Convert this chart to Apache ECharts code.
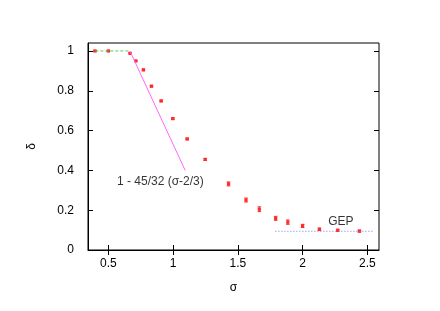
<!DOCTYPE html>
<html><head><meta charset="utf-8">
<script src="https://cdn.jsdelivr.net/npm/echarts@6/dist/echarts.min.js"></script>
<style>html,body{margin:0;padding:0;background:#fff}#c{width:440px;height:311px}</style>
</head><body><div id="c"></div>
<script>
const sigma = [0.397, 0.5, 0.668, 0.712, 0.771, 0.833, 0.908, 0.998, 1.109, 1.248, 1.428, 1.563, 1.666, 1.792, 1.886, 2.0, 2.13, 2.271, 2.439];
const delta = [1.0, 1.0, 0.988, 0.95, 0.905, 0.823, 0.749, 0.66, 0.558, 0.455, 0.332, 0.251, 0.205, 0.159, 0.14, 0.121, 0.104, 0.099, 0.095];
const errs  = [0.003, 0.003, 0.003, 0.003, 0.004, 0.004, 0.004, 0.004, 0.004, 0.005, 0.01, 0.01, 0.012, 0.01, 0.011, 0.008, 0.006, 0.005, 0.005];
const xTicks = [0.5, 1, 1.5, 2, 2.5];
const yTicks = [0, 0.2, 0.4, 0.6, 0.8, 1];
const plateau = [[0.4, 1], [0.6667, 1]];
const linearFit = [[0.6667, 1], [1.0933, 0.4]];
const gepLine = [[1.79, 0.094], [2.55, 0.094]];
const fitLabel = {text: '1 - 45/32 (σ-2/3)', pos: [0.567, 0.343]};
const gepLabel = {text: 'GEP', pos: [2.198, 0.142]};

const font = 'Liberation Sans, Arial, sans-serif';
const points = sigma.map((s, i) => [s, delta[i], errs[i]]);
const chart = echarts.init(document.getElementById('c'));
const tickStyle = {show: true, inside: true, length: 5, lineStyle: {color: '#000', width: 1}};
chart.setOption({
  animation: false,
  grid: {left: 88, right: 61, top: 43, bottom: 61, show: true, borderColor: '#000', borderWidth: 1},
  xAxis: [{
    type: 'value', min: 0.343, max: 2.59, position: 'bottom',
    name: 'σ', nameLocation: 'middle', nameGap: 32,
    nameTextStyle: {fontFamily: font, fontSize: 12, color: '#000'},
    axisLine: {show: true, lineStyle: {color: '#000'}},
    axisTick: Object.assign({customValues: xTicks}, tickStyle),
    axisLabel: {customValues: xTicks, fontFamily: font, fontSize: 12, color: '#000', margin: 8},
    splitLine: {show: false}
  }, {
    type: 'value', min: 0.343, max: 2.59, position: 'top',
    axisLine: {show: false},
    axisTick: Object.assign({customValues: xTicks}, tickStyle),
    axisLabel: {show: false}, splitLine: {show: false}
  }],
  yAxis: [{
    type: 'value', min: 0, max: 1.04, position: 'left',
    name: 'δ', nameLocation: 'middle', nameGap: 50,
    nameTextStyle: {fontFamily: font, fontSize: 12, color: '#000'},
    axisLine: {show: true, lineStyle: {color: '#000'}},
    axisTick: Object.assign({customValues: yTicks}, tickStyle),
    axisLabel: {customValues: yTicks, fontFamily: font, fontSize: 12, color: '#000', margin: 14},
    splitLine: {show: false}
  }, {
    type: 'value', min: 0, max: 1.04, position: 'right',
    axisLine: {show: false},
    axisTick: Object.assign({customValues: yTicks}, tickStyle),
    axisLabel: {show: false}, splitLine: {show: false}
  }],
  series: [
    {type: 'line', data: plateau, symbol: 'none', lineStyle: {color: '#55cc55', width: 1, type: [3, 2]}},
    {type: 'line', data: linearFit, symbol: 'none', lineStyle: {color: '#ff66ff', width: 1}},
    {type: 'line', data: gepLine, symbol: 'none', lineStyle: {color: '#7777ee', width: 1, type: [1, 2]}},
    {type: 'custom', data: points,
      renderItem: function (params, api) {
        const x = api.value(0), y = api.value(1), e = api.value(2);
        const top = api.coord([x, y + e]);
        const bot = api.coord([x, y - e]);
        const c = api.coord([x, y]);
        const st = {stroke: '#ff3030', lineWidth: 1};
        return {type: 'group', children: [
          {type: 'line', shape: {x1: c[0], y1: top[1], x2: c[0], y2: bot[1]}, style: st},
          {type: 'line', shape: {x1: c[0] - 1.8, y1: top[1], x2: c[0] + 1.8, y2: top[1]}, style: st},
          {type: 'line', shape: {x1: c[0] - 1.8, y1: bot[1], x2: c[0] + 1.8, y2: bot[1]}, style: st},
          {type: 'rect', shape: {x: c[0] - 1.6, y: c[1] - 1.6, width: 3.2, height: 3.2}, style: {fill: '#ff2a2a'}}
        ]};
      }
    },
    {type: 'scatter', symbolSize: 0, silent: true,
      data: [
        {value: fitLabel.pos, label: {show: true, formatter: fitLabel.text}},
        {value: gepLabel.pos, label: {show: true, formatter: gepLabel.text}}
      ],
      label: {position: 'right', distance: 0, fontFamily: font, fontSize: 12, color: '#000'}
    }
  ]
});
</script></body></html>
